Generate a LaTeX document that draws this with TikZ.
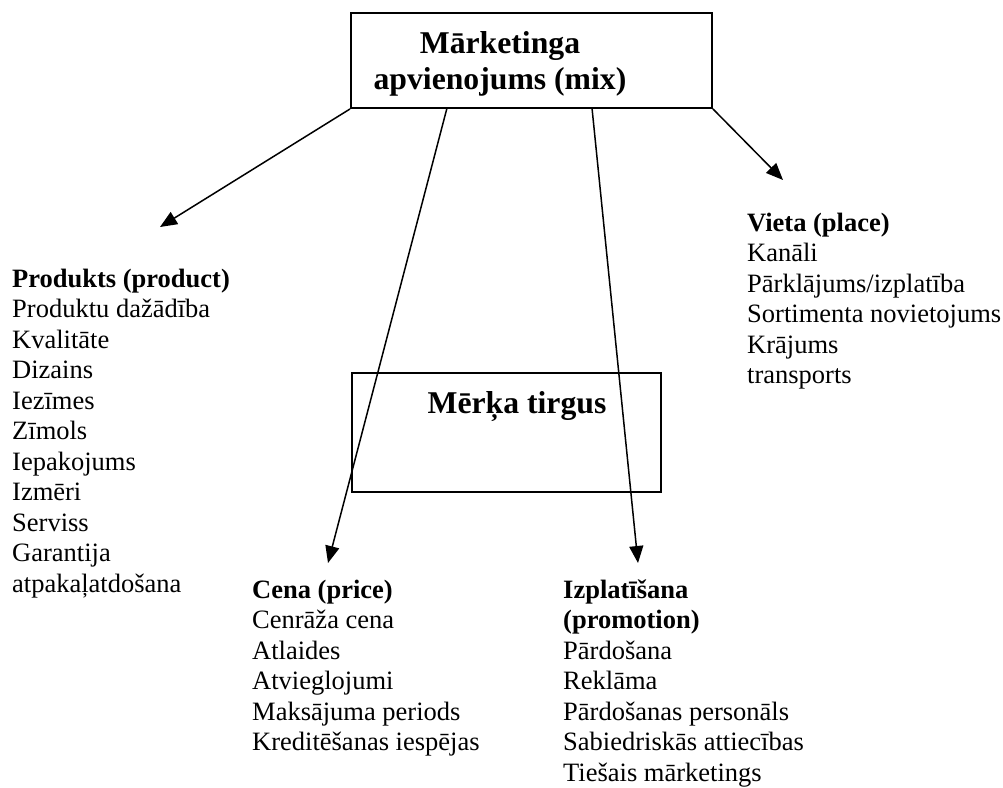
\documentclass[tikz,border=0pt]{standalone}
\usepackage{fontspec}
\setmainfont{Liberation Serif}
\usetikzlibrary{arrows.meta}
\begin{document}
\begin{tikzpicture}[x=1pt,y=-1pt,
  frame/.style={draw, line width=1.9pt, inner sep=0pt},
  arr/.style={-{Triangle[length=17pt,width=14pt]}, line width=1.5pt},
  txt/.style={inner sep=0pt, anchor=base west, font=\fontsize{26.5}{30.55}\selectfont},
  ttl/.style={inner sep=0pt, anchor=base, font=\fontsize{31.7}{35}\selectfont\bfseries}]
\useasboundingbox (0,0) rectangle (1003,787);
% boxes
\node[frame, minimum width=361pt, minimum height=95pt] (mix) at (531.5,60.5) {};
\node[ttl] (mixa) at (500,53) {Mārketinga};
\node[ttl] (mixb) at (500,89) {apvienojums (mix)};
\node[frame, minimum width=309pt, minimum height=119pt] (target) at (506.5,432.5) {};
\node[ttl] (targett) at (517,413) {Mērķa tirgus};
% text blocks
\node[txt] (prod) at (12,287) {\vtop{\hbox{\textbf{Produkts (product)}}\hbox{Produktu dažādība}\hbox{Kvalitāte}\hbox{Dizains}\hbox{Iezīmes}\hbox{Zīmols}\hbox{Iepakojums}\hbox{Izmēri}\hbox{Serviss}\hbox{Garantija}\hbox{atpakaļatdošana}}};
\node[txt] (place) at (747,231) {\vtop{\hbox{\textbf{Vieta (place)}}\hbox{Kanāli}\hbox{Pārklājums/izplatība}\hbox{Sortimenta novietojums}\hbox{Krājums}\hbox{transports}}};
\node[txt] (price) at (252,598) {\vtop{\hbox{\textbf{Cena (price)}}\hbox{Cenrāža cena}\hbox{Atlaides}\hbox{Atvieglojumi}\hbox{Maksājuma periods}\hbox{Kreditēšanas iespējas}}};
\node[txt] (promo) at (563,598) {\vtop{\hbox{\textbf{Izplatīšana}}\hbox{\textbf{(promotion)}}\hbox{Pārdošana}\hbox{Reklāma}\hbox{Pārdošanas personāls}\hbox{Sabiedriskās attiecības}\hbox{Tiešais mārketings}}};
% arrow ends
\coordinate (s2) at (447,108);
\coordinate (s3) at (592,108);
\coordinate (t1) at (160,227);
\coordinate (t2) at (328,563);
\coordinate (t3) at (638,563);
\coordinate (t4) at (783,180);
\draw[arr] (mix.south west) -- (t1);
\draw[arr] (s2) -- (t2);
\draw[arr] (s3) -- (t3);
\draw[arr] (mix.south east) -- (t4);
\end{tikzpicture}
\end{document}
